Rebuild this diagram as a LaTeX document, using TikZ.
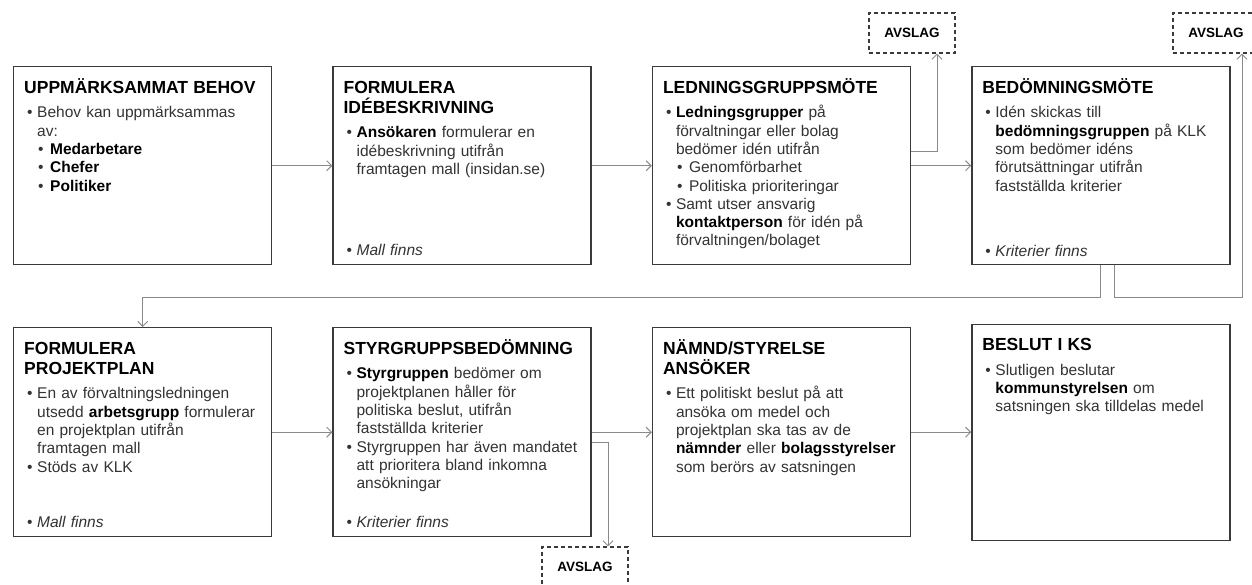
\documentclass[tikz,border=0pt]{standalone}
\usepackage{fontspec}
\setmainfont{Liberation Sans}
\usetikzlibrary{arrows.meta,positioning}

\definecolor{boxline}{HTML}{3A3A3A}
\definecolor{flowgray}{HTML}{8A8A8A}
\definecolor{textgray}{HTML}{333333}

\newcommand{\bodyfont}{\fontsize{15.5}{18.3}\selectfont}
\newcommand{\boxtitle}[1]{{\fontsize{17.5}{20}\selectfont\bfseries\noindent\textcolor{black}{#1}\par}\vspace{6.5pt}}
\newcommand{\bul}[1]{\hangindent=13pt\hangafter=1\noindent\hspace*{3pt}\makebox[10pt][l]{\textbullet}#1\par}
\newcommand{\subbul}[1]{\hangindent=26pt\hangafter=1\noindent\hspace*{14pt}\makebox[12pt][l]{\textbullet}#1\par}
\newcommand{\keyword}[1]{\textcolor{black}{\textbf{#1}}}

\begin{document}
\begin{tikzpicture}[x=1pt, y=-1pt,
    >={Straight Barb[length=5pt,width=10pt]},
    stepbox/.style={draw=boxline, line width=1.4pt, rectangle, minimum width=\boxw, inner sep=0pt},
    boxtext/.style={anchor=base west, text width=245pt, inner sep=0pt, align=left, font=\bodyfont, text=textgray},
    avslag/.style={draw=boxline, line width=1.1pt, dash pattern=on 4pt off 3pt, minimum width=86pt, minimum height=40pt, inner sep=0pt, font=\fontsize{13.5}{15}\selectfont\bfseries, text=black},
    flow/.style={->, draw=flowgray, line width=1pt}]

    %--------------------%
    % Parameters
    %--------------------%
    \def\boxw{258pt}
    \def\toph{198pt}
    \def\both{209pt}
    \def\gap{60pt}

    \useasboundingbox[fill=white] (0,0) rectangle (1252,584);

    %--------------------%
    % Row 1
    %--------------------%
    \node[stepbox, minimum height=\toph, anchor=north west] (behov) at (13,66) {};
    \node[stepbox, minimum height=\toph, right=\gap of behov] (idebeskr) {};
    \node[stepbox, minimum height=\toph, right=\gap of idebeskr] (ledning) {};
    \node[stepbox, minimum height=\toph, right=\gap of ledning] (bedomning) {};

    \node[boxtext] (behovtxt) at ([xshift=11pt,yshift=-27pt]behov.north west) {%
        \boxtitle{UPPMÄRKSAMMAT BEHOV}
        \bul{Behov kan uppmärksammas\newline av:}
        \subbul{\keyword{Medarbetare}}
        \subbul{\keyword{Chefer}}
        \subbul{\keyword{Politiker}}};

    \node[boxtext] (idebeskrtxt) at ([xshift=11pt,yshift=-27pt]idebeskr.north west) {%
        \boxtitle{FORMULERA\newline IDÉBESKRIVNING}
        \bul{\keyword{Ansökaren} formulerar en\newline idébeskrivning utifrån\newline framtagen mall (insidan.se)}};
    \node[boxtext] (idebeskrnote) at ([xshift=11pt,yshift=10pt]idebeskr.south west) {\bul{\textit{Mall finns}}};

    \node[boxtext] (ledningtxt) at ([xshift=11pt,yshift=-27pt]ledning.north west) {%
        \boxtitle{LEDNINGSGRUPPSMÖTE}
        \bul{\keyword{Ledningsgrupper} på\newline förvaltningar eller bolag\newline bedömer idén utifrån}
        \subbul{Genomförbarhet}
        \subbul{Politiska prioriteringar}
        \bul{Samt utser ansvarig\newline \keyword{kontaktperson} för idén på\newline förvaltningen/bolaget}};

    \node[boxtext] (bedomningtxt) at ([xshift=11pt,yshift=-27pt]bedomning.north west) {%
        \boxtitle{BEDÖMNINGSMÖTE}
        \bul{Idén skickas till\newline \keyword{bedömningsgruppen} på KLK\newline som bedömer idéns\newline förutsättningar utifrån\newline fastställda kriterier}};
    \node[boxtext] (bedomningnote) at ([xshift=11pt,yshift=9pt]bedomning.south west) {\bul{\textit{Kriterier finns}}};

    %--------------------%
    % Row 2
    %--------------------%
    \node[stepbox, minimum height=\both, anchor=north west] (projplan) at (13,327) {};
    \node[stepbox, minimum height=\both, right=\gap of projplan] (styrgrupp) {};
    \node[stepbox, minimum height=\both, right=\gap of styrgrupp] (namnd) {};
    \node[stepbox, minimum height=216pt, right=\gap of namnd] (ks) {};

    \node[boxtext] (projplantxt) at ([xshift=11pt,yshift=-27pt]projplan.north west) {%
        \boxtitle{FORMULERA\newline PROJEKTPLAN}
        \bul{En av förvaltningsledningen\newline utsedd \keyword{arbetsgrupp} formulerar\newline en projektplan utifrån\newline framtagen mall}
        \bul{Stöds av KLK}};
    \node[boxtext] (projplannote) at ([xshift=11pt,yshift=10pt]projplan.south west) {\bul{\textit{Mall finns}}};

    \node[boxtext] (styrgrupptxt) at ([xshift=11pt,yshift=-27pt]styrgrupp.north west) {%
        \boxtitle{STYRGRUPPSBEDÖMNING}
        \bul{\keyword{Styrgruppen} bedömer om\newline projektplanen håller för\newline politiska beslut, utifrån\newline fastställda kriterier}
        \bul{Styrgruppen har även mandatet\newline att prioritera bland inkomna\newline ansökningar}};
    \node[boxtext] (styrgruppnote) at ([xshift=11pt,yshift=10pt]styrgrupp.south west) {\bul{\textit{Kriterier finns}}};

    \node[boxtext] (namndtxt) at ([xshift=11pt,yshift=-27pt]namnd.north west) {%
        \boxtitle{NÄMND/STYRELSE\newline ANSÖKER}
        \bul{Ett politiskt beslut på att\newline ansöka om medel och\newline projektplan ska tas av de\newline \keyword{nämnder} eller \keyword{bolagsstyrelser}\newline som berörs av satsningen}};

    \node[boxtext] (kstxt) at ([xshift=11pt,yshift=-27pt]ks.north west) {%
        \boxtitle{BESLUT I KS}
        \bul{Slutligen beslutar\newline \keyword{kommunstyrelsen} om\newline satsningen ska tilldelas medel}};

    %--------------------%
    % Avslag
    %--------------------%
    \node[avslag] (avslag1) at (912,33) {AVSLAG};
    \node[avslag] (avslag2) at (1216,33) {AVSLAG};
    \node[avslag] (avslag3) at (585,567) {AVSLAG};

    %--------------------%
    % Connections
    %--------------------%
    \draw[flow] (behov) -- (idebeskr);
    \draw[flow] (idebeskr) -- (ledning);
    \draw[flow] (ledning) -- (bedomning);
    \draw[flow] ([yshift=14pt]ledning.east) -| ([xshift=25pt]avslag1.south);
    \draw[flow] ([xshift=14pt]bedomning.south) -- ++(0,32) -| ([xshift=26pt]avslag2.south);
    \draw[flow] (bedomning.south) -- ++(0,32) -| (projplan.north);

    \draw[flow] (projplan) -- (styrgrupp);
    \draw[flow] (styrgrupp) -- (namnd);
    \draw[flow] (namnd) -- (ks);
    \draw[flow] ([yshift=-10pt]styrgrupp.east) -| ([xshift=23pt]avslag3.north);
\end{tikzpicture}
\end{document}
